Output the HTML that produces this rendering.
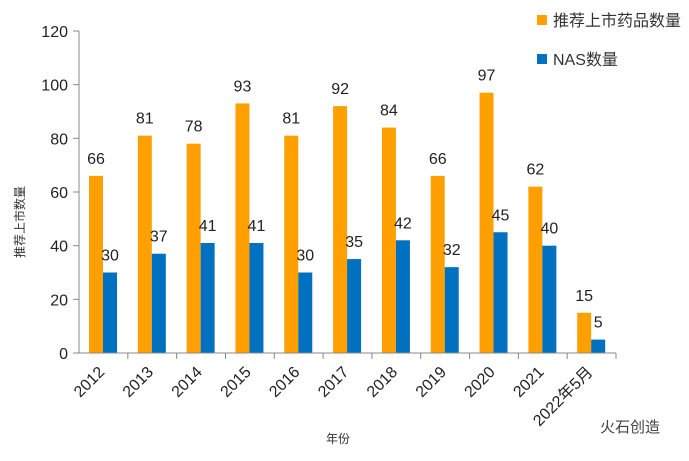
<!DOCTYPE html>
<html><head><meta charset="utf-8"><style>
body{margin:0;background:#fff;}
svg text{font-family:"Liberation Sans","Noto Sans CJK SC",sans-serif;}
</style></head><body>
<svg width="689" height="456">
<g id="g"></g>
</svg>
<script>
const categories=["2012","2013","2014","2015","2016","2017","2018","2019","2020","2021","2022年5月"];
const listed=[66,81,78,93,81,92,84,66,97,62,15];
const nas=[30,37,41,41,30,35,42,32,45,40,5];
const yTicks=[0,20,40,60,80,100,120];
const NS="http://www.w3.org/2000/svg";
const g=document.getElementById('g');
const x0=79,x1=616,y0=353,y1=31,ymax=120;
const band=(x1-x0)/categories.length;
const y=v=>y0-(v/ymax)*(y0-y1);
function el(t,a,txt){const e=document.createElementNS(NS,t);for(const k in a)e.setAttribute(k,a[k]);if(txt!==undefined)e.textContent=txt;g.appendChild(e);return e;}
let ax=el('line',{x1:x0,y1:y1,x2:x0,y2:y0,stroke:'#888','stroke-width':1});


yTicks.forEach(t=>{
 let l=el('line',{x1:x0-6,x2:x0,y1:y(t),y2:y(t),stroke:'#888'});
 
 
 let tx=el('text',{x:x0-11,y:y(t)+6,'text-anchor':'end','font-size':16,fill:'#222'},t);
 
 
});
categories.forEach((c,i)=>{
 const bx=x0+i*band;
 let tk=el('line',{x1:bx+band,x2:bx+band,y1:y0,y2:y0+6,stroke:'#888'});
 
 
 let b1=el('rect',{x:bx+10,y:y(listed[i]),width:14,height:y0-y(listed[i]),fill:'#FFA000'});
 
 
 let b2=el('rect',{x:bx+24,y:y(nas[i]),width:14,height:y0-y(nas[i]),fill:'#0070C0'});
 
 
 let t1=el('text',{x:bx+17,y:y(listed[i])-12,'text-anchor':'middle','font-size':16,fill:'#222'},listed[i]);
 
 
 let t2=el('text',{x:bx+31,y:y(nas[i])-12,'text-anchor':'middle','font-size':16,fill:'#222'},nas[i]);
 
 
 const cx=bx+band/2+2, cy=y0+20;
 let xl=el('text',{x:cx,y:cy,'text-anchor':'end','font-size':16,fill:'#222',transform:`rotate(-45 ${cx} ${cy})`},c);
 
 
});
let xa=el('line',{x1:x0,y1:y0,x2:x1,y2:y0,stroke:'#888'});


let yt=el('text',{x:24,y:222,'text-anchor':'middle','font-size':12,fill:'#333',transform:'rotate(-90 24 222)'},'推荐上市数量');


let xt=el('text',{x:338,y:443,'text-anchor':'middle','font-size':12,fill:'#333'},'年份');


let s1=el('rect',{x:537,y:15,width:10,height:10,fill:'#FFA000'});


let l1=el('text',{x:553,y:26,'font-size':16,fill:'#333'},'推荐上市药品数量');


let s2=el('rect',{x:537,y:54,width:10,height:10,fill:'#0070C0'});


let l2=el('text',{x:553,y:65,'font-size':16,fill:'#333'},'NAS数量');


let wm=el('text',{x:600,y:432,'font-size':15,fill:'#444'},'火石创造');


</script>
</body></html>
